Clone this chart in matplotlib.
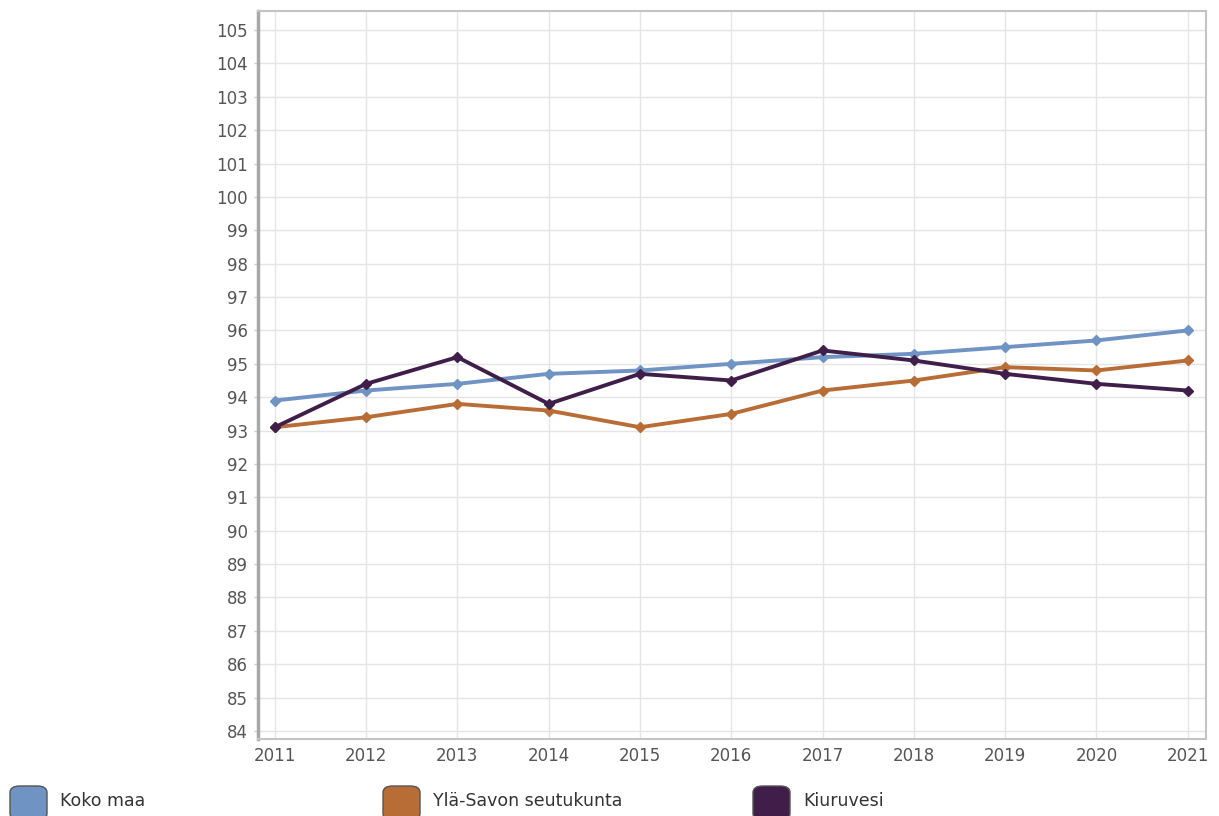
import numpy as np
import matplotlib.pyplot as plt
from matplotlib.patches import FancyBboxPatch

years = [2011, 2012, 2013, 2014, 2015, 2016, 2017, 2018, 2019, 2020, 2021]
koko_maa = [93.9, 94.2, 94.4, 94.7, 94.8, 95.0, 95.2, 95.3, 95.5, 95.7, 96.0]
yla_savo = [93.1, 93.4, 93.8, 93.6, 93.1, 93.5, 94.2, 94.5, 94.9, 94.8, 95.1]
kiuruvesi = [93.1, 94.4, 95.2, 93.8, 94.7, 94.5, 95.4, 95.1, 94.7, 94.4, 94.2]

labels = ['Koko maa', 'Ylä-Savon seutukunta', 'Kiuruvesi']
colors = ['#6f93c3', '#b96d36', '#3f1f4a']
series = [koko_maa, yla_savo, kiuruvesi]

fig = plt.figure(figsize=(12.19, 8.16), dpi=100)
ax = fig.add_axes([257.5 / 1219, 1 - 739 / 816, (1206 - 257.5) / 1219, (739 - 11) / 816])

for vals, col in zip(series, colors):
    ax.plot(years, vals, color=col, lw=2.8, marker='D', ms=5.5, zorder=3)

ax.set_xlim(2010.81, 2021.2)
ax.set_ylim(83.76, 105.57)
ax.set_xticks(years)
ax.set_yticks(np.arange(84, 106))
ax.grid(True, color='#e5e5e5', lw=1.0)
ax.set_axisbelow(True)

for side in ['top', 'right', 'bottom']:
    ax.spines[side].set_color('#c4c4c4')
    ax.spines[side].set_linewidth(1.5)
ax.spines['left'].set_color('#a8a8a8')
ax.spines['left'].set_linewidth(2.5)
ax.tick_params(axis='both', labelsize=12, colors='#555555', length=3, width=1)
ax.tick_params(axis='y', colors='#cccccc', labelcolor='#555555', pad=4)
ax.tick_params(axis='x', length=0, pad=6, labelcolor='#555555')

# legend at the bottom
leg_x = [10, 383, 753]
for x0, lab, col in zip(leg_x, labels, colors):
    box = FancyBboxPatch((x0 / 1219, 1 - 820 / 816), 37 / 1219, 34 / 816,
                         boxstyle='round,pad=0,rounding_size=0.008',
                         transform=fig.transFigure, facecolor=col,
                         edgecolor='#555555', lw=1.0, clip_on=False)
    fig.patches.append(box)
    fig.text((x0 + 50) / 1219, 1 - 801 / 816, lab, fontsize=12.5,
             color='#333333', va='center', ha='left')

fig.savefig('out.png', dpi=100)
